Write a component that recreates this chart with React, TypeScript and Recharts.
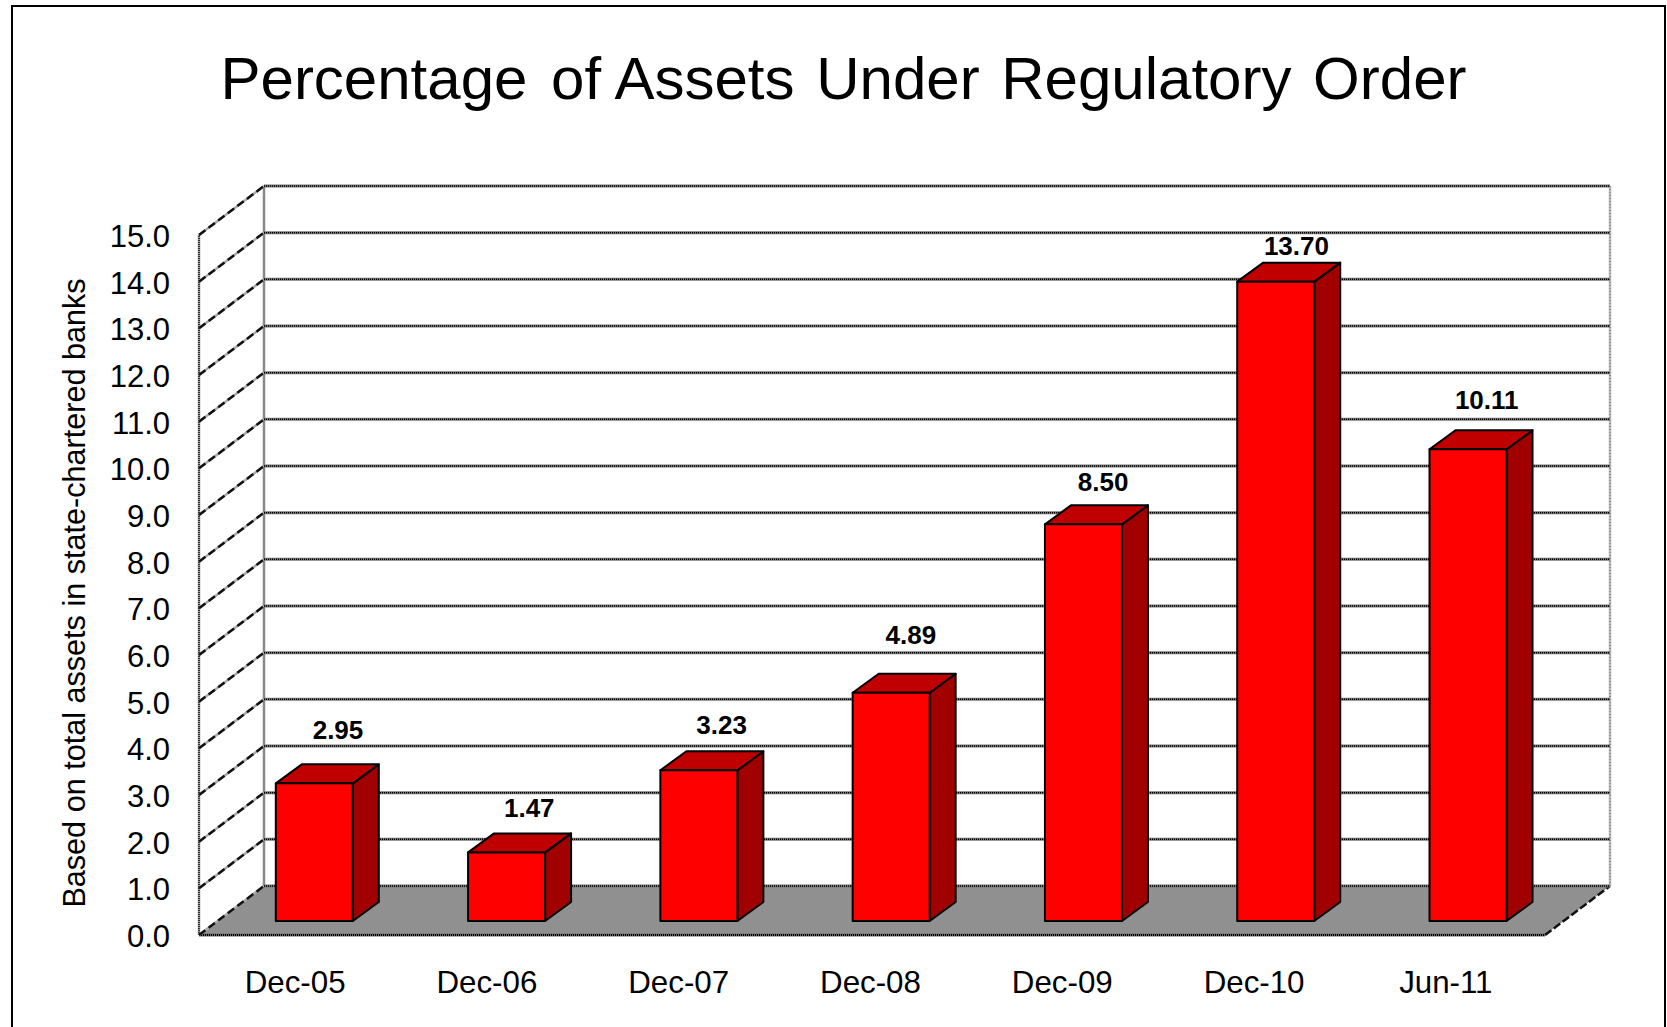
import React from 'react';
import { BarChart, Bar, XAxis, YAxis, CartesianGrid, LabelList } from 'recharts';

const categories = ['Dec-05', 'Dec-06', 'Dec-07', 'Dec-08', 'Dec-09', 'Dec-10', 'Jun-11'];
const assetPercent = [2.95, 1.47, 3.23, 4.89, 8.5, 13.7, 10.11];
const valueTicks = [0, 1, 2, 3, 4, 5, 6, 7, 8, 9, 10, 11, 12, 13, 14, 15];

const chartData = categories.map((month, i) => ({ month, value: assetPercent[i] }));

// layout of the fake 3d box
const FONT = '"Liberation Sans", Arial, sans-serif';
const WALL_DX = 65;
const WALL_DY = 49;
const BAR_DX = 26;
const BAR_DY = 19;
const BAR_SHIFT_X = 18.8;
const BAR_SHIFT_Y = 14;
const PLOT_TOP = 235;
// the labels do not sit at a constant spot over the bars in the original
const labelLift = [44, 35, 36, 49, 33, 27, 40];
const labelNudge = [24, 23, 23, 20, 20, 21, 19];

const GridLine = (props: any) => {
  const { x1, x2, y1, key } = props;
  const backY = y1 - WALL_DY;
  const backLeft = x1 + WALL_DX;
  const backRight = x2 + WALL_DX;
  const isFloor = Math.abs(y1 - (PLOT_TOP + 700)) < 1;

  return (
    <g key={key}>
      {isFloor && (
        <>
          <polygon
            points={`${x1},${y1} ${backLeft},${backY} ${backRight},${backY} ${x2},${y1}`}
            fill="#909090"
          />
          <line x1={backLeft} y1={backY} x2={backLeft} y2={PLOT_TOP - WALL_DY} stroke="#888" strokeWidth={2.5} />
          <line x1={backRight} y1={backY} x2={backRight} y2={PLOT_TOP - WALL_DY} stroke="#bbb" strokeWidth={2.5} />
          <line x1={backRight} y1={backY} x2={backRight} y2={PLOT_TOP - WALL_DY} stroke="#666" strokeWidth={1} strokeDasharray="1 2" />
          <line x1={x1} y1={y1} x2={x1} y2={PLOT_TOP} stroke="#999" strokeWidth={2.5} />
          <line x1={x1} y1={y1} x2={x1} y2={PLOT_TOP} stroke="#111" strokeWidth={1.5} strokeDasharray="1 1" />
          <line x1={x2} y1={y1} x2={backRight} y2={backY} stroke="#111" strokeWidth={2.5} strokeDasharray="8 3" />
          <line x1={x1} y1={y1} x2={x2} y2={y1} stroke="#666" strokeWidth={3} />
          <line x1={x1} y1={y1} x2={x2} y2={y1} stroke="#000" strokeWidth={2} strokeDasharray="1 1" />
        </>
      )}
      <line x1={x1} y1={y1} x2={backLeft} y2={backY} stroke="#aaa" strokeWidth={2.5} />
      <line x1={x1} y1={y1} x2={backLeft} y2={backY} stroke="#111" strokeWidth={2.5} strokeDasharray="8 4" />
      <line x1={backLeft} y1={backY} x2={backRight} y2={backY} stroke="#777" strokeWidth={3} />
      <line x1={backLeft} y1={backY} x2={backRight} y2={backY} stroke="#000" strokeWidth={1.5} strokeDasharray="1 1" />
    </g>
  );
};

const Box3D = (props: any) => {
  const { x, y, width, height } = props;
  const left = x + BAR_SHIFT_X;
  const top = y - BAR_SHIFT_Y;
  const right = left + width;
  const bottom = top + height;

  return (
    <g stroke="#000" strokeWidth={2} strokeLinejoin="round">
      <polygon
        points={`${right},${top} ${right + BAR_DX},${top - BAR_DY} ${right + BAR_DX},${bottom - BAR_DY} ${right},${bottom}`}
        fill="#A00000"
      />
      <polygon
        points={`${left},${top} ${left + BAR_DX},${top - BAR_DY} ${right + BAR_DX},${top - BAR_DY} ${right},${top}`}
        fill="#C00000"
      />
      <rect x={left} y={top} width={width} height={height} fill="#FF0000" />
    </g>
  );
};

const ValueLabel = (props: any) => {
  const { x, y, width, index, value } = props;
  return (
    <text
      x={x + width / 2 + 18.5 + labelNudge[index]}
      y={y - BAR_SHIFT_Y - labelLift[index]}
      textAnchor="middle"
      fontFamily={FONT}
      fontSize={26}
      fontWeight="bold"
      fill="#000"
    >
      {value.toFixed(2)}
    </text>
  );
};

// month labels drift a little to the left in the original
const MonthTick = (props: any) => {
  const { x, y, payload, index } = props;
  return (
    <text
      x={x - index * 0.5}
      y={y + 50}
      textAnchor="middle"
      fontFamily={FONT}
      fontSize={31.3}
      fill="#000"
    >
      {payload.value}
    </text>
  );
};

export default function App() {
  return (
    <div style={{ position: 'absolute', left: 0, top: 0, width: 1667, height: 1027, overflow: 'hidden', background: '#fff' }}>
      <div
        style={{
          position: 'absolute',
          left: 11,
          top: 5,
          width: 1651,
          height: 1040,
          border: '2px solid #000',
        }}
      />
      <div
        style={{
          position: 'absolute',
          left: 0,
          width: 1690,
          top: 37,
          textAlign: 'center',
          fontFamily: FONT,
          fontSize: 60,
          lineHeight: '84px',
          wordSpacing: 5,
          color: '#000',
        }}
      >
        Percentage{' '}
        <span style={{ position: 'relative', left: 2 }}>of</span>{' '}
        <span style={{ position: 'relative', left: -3 }}>Assets Under Regulatory Order</span>
      </div>
      <div style={{ position: 'absolute', left: 0, top: 0 }}>
        <BarChart
          width={1667}
          height={1027}
          data={chartData}
          margin={{ top: PLOT_TOP, right: 122, bottom: 0, left: 49 }}
          barCategoryGap={0}
        >
          <CartesianGrid horizontal={GridLine} vertical={false} />
          <XAxis
            dataKey="month"
            height={92}
            axisLine={false}
            tickLine={false}
            interval={0}
            tick={MonthTick}
          />
          <YAxis
            type="number"
            domain={[0, 15]}
            ticks={valueTicks}
            interval={0}
            width={150}
            axisLine={false}
            tickLine={false}
            tickMargin={23}
            tickFormatter={(v: number) => v.toFixed(1)}
            tick={{ fontFamily: FONT, fontSize: 31, fill: '#000', dy: 1 }}
            label={{
              value: 'Based on total assets in state-chartered banks',
              angle: -90,
              position: 'center',
              dx: -50,
              dy: 8,
              style: { fontFamily: FONT, fontSize: 30.6, fill: '#000' },
            }}
          />
          <Bar dataKey="value" barSize={77} shape={Box3D} isAnimationActive={false}>
            <LabelList dataKey="value" content={ValueLabel} />
          </Bar>
        </BarChart>
      </div>
    </div>
  );
}
